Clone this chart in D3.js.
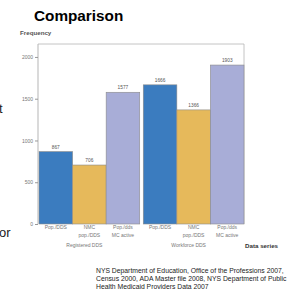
<!DOCTYPE html>
<html>
<head>
<meta charset="utf-8">
<script src="https://cdn.jsdelivr.net/npm/d3@7"></script>
<style>
  body { margin: 0; background: #fff; }
  svg { display: block; font-family: "Liberation Sans", Arial, sans-serif; }
</style>
</head>
<body>
<div id="chart"></div>
<script>
// data
const groups = ["Registered DDS", "Workforce DDS"];
const seriesLabels = [["Pop./DDS"], ["NMC", "pop./DDS"], ["Pop./dds", "MC active"]];
const registered = [867, 706, 1577];
const workforce = [1666, 1366, 1903];
const yTicks = [0, 500, 1000, 1500, 2000];
const sourceLines = [
    "NYS Department of Education, Office of the Professions 2007,",
    "Census 2000, ADA Master file 2008, NYS Department of Public",
    "Health Medicaid  Providers Data 2007"
];

let w = 291;
let h = 297;
let margin = {top: 44, right: 47, bottom: 73, left: 38};
let colors = ["#3b7cbf", "#e6b95b", "#a8add7"];

let svg = d3.select("#chart")
            .append("svg")
            .attr("width", w)
            .attr("height", h);

// title and stray slide text
svg.append("text")
    .attr("x", 34).attr("y", 21)
    .text("Comparison")
    .style("font-size", "15.3px")
    .style("font-weight", "bold")
    .style("fill", "#000");
svg.append("text")
    .attr("x", -1).attr("y", 113)
    .text("t")
    .style("font-size", "13px")
    .style("fill", "#222");
svg.append("text")
    .attr("x", -1).attr("y", 237)
    .text("or")
    .style("font-size", "13px")
    .style("fill", "#222");

let rows = [];
groups.forEach((g, gi) => {
    let vals = gi == 0 ? registered : workforce;
    vals.forEach((v, si) => rows.push({group: g, gi: gi, si: si, value: v}));
});

let plotW = w - margin.left - margin.right;
let plotH = h - margin.top - margin.bottom;

let x0 = d3.scaleBand()
            .domain(groups)
            .range([margin.left + 1, margin.left + plotW])
            .paddingInner(0.034)
            .paddingOuter(0);
let x1 = d3.scaleBand()
            .domain([0, 1, 2])
            .range([0, x0.bandwidth()]);
let y = d3.scaleLinear()
            .domain([0, 2155])
            .range([margin.top + plotH, margin.top]);

// frame: top and right border
svg.append("path")
    .attr("d", `M${margin.left},${margin.top}H${margin.left + plotW}V${margin.top + plotH}`)
    .attr("fill", "none")
    .attr("stroke", "#b5b5b5")
    .attr("stroke-width", 0.8);

// bars
svg.selectAll("rect.bar")
    .data(rows)
    .enter()
    .append("rect")
    .attr("class", "bar")
    .attr("x", d => x0(d.group) + x1(d.si))
    .attr("y", d => y(d.value))
    .attr("width", x1.bandwidth())
    .attr("height", d => y(0) - y(d.value))
    .attr("fill", d => colors[d.si])
    .attr("stroke", "#8a8a8a")
    .attr("stroke-width", 0.6);

// value labels
svg.selectAll("text.val")
    .data(rows)
    .enter()
    .append("text")
    .attr("class", "val")
    .attr("x", d => x0(d.group) + x1(d.si) + x1.bandwidth() / 2)
    .attr("y", d => y(d.value) - 3)
    .attr("text-anchor", "middle")
    .text(d => d.value)
    .style("font-size", "4.8px")
    .style("fill", "#555");

// y axis
let yAxis = d3.axisLeft(y).tickValues(yTicks).tickFormat(d3.format("d")).tickSize(3).tickPadding(2);
let gy = svg.append("g")
    .attr("transform", `translate(${margin.left},0)`)
    .call(yAxis);
gy.select(".domain").attr("stroke", "#b5b5b5").attr("d", `M0,${y(0)}V${margin.top}`);
gy.selectAll(".tick line").attr("stroke", "#999");
gy.selectAll(".tick text")
    .style("font-size", "5px")
    .style("fill", "#777")
    .style("font-family", "Liberation Sans, Arial, sans-serif");

svg.append("text")
    .attr("x", 20).attr("y", 35)
    .text("Frequency")
    .style("font-size", "6.2px")
    .style("font-weight", "bold")
    .style("fill", "#555");

// x category labels
svg.selectAll("text.cat")
    .data(rows)
    .enter()
    .append("text")
    .attr("class", "cat")
    .attr("x", d => x0(d.group) + x1(d.si) + x1.bandwidth() / 2)
    .attr("y", y(0) + 5)
    .attr("text-anchor", "middle")
    .style("font-size", "5px")
    .style("fill", "#777")
    .each(function(d) {
        let t = d3.select(this);
        seriesLabels[d.si].forEach((s, i) => {
            t.append("tspan")
                .attr("x", x0(d.group) + x1(d.si) + x1.bandwidth() / 2)
                .attr("dy", i == 0 ? 0 : 8)
                .text(s);
        });
    });

// group labels
svg.selectAll("text.grp")
    .data(groups)
    .enter()
    .append("text")
    .attr("class", "grp")
    .attr("x", d => x0(d) + x0.bandwidth() / 2 - 5)
    .attr("y", y(0) + 23)
    .attr("text-anchor", "middle")
    .text(d => d)
    .style("font-size", "5px")
    .style("fill", "#777");

svg.append("text")
    .attr("x", 245).attr("y", 248)
    .text("Data series")
    .style("font-size", "6.2px")
    .style("font-weight", "bold")
    .style("fill", "#333");

// source note
svg.selectAll("text.src")
    .data(sourceLines)
    .enter()
    .append("text")
    .attr("class", "src")
    .attr("x", 96)
    .attr("y", (d, i) => 273 + i * 8)
    .text(d => d)
    .style("font-size", "6.8px")
    .style("fill", "#222");
</script>
</body>
</html>
